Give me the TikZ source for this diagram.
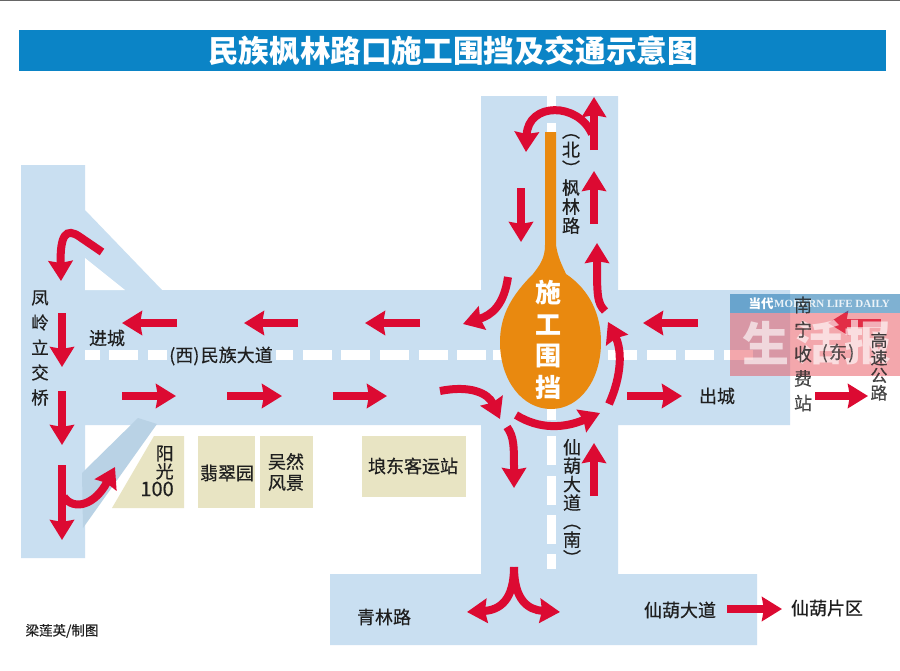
\documentclass[tikz,border=0pt]{standalone}
\usepackage{fontspec}
\usetikzlibrary{arrows.meta}
\setmainfont{Noto Sans CJK SC}[UprightFeatures={FakeBold=0.35}]
\newfontfamily\wmlatin{Liberation Serif}
\definecolor{road}{HTML}{C9DFF1}
\definecolor{ramp}{HTML}{B9D2E5}
\definecolor{beige}{HTML}{E8E4C3}
\definecolor{bar}{HTML}{0B84C6}
\definecolor{cone}{HTML}{E9890F}
\definecolor{redarrow}{HTML}{DC0A32}
\definecolor{wmred}{HTML}{E8505A}
\definecolor{wmblue}{HTML}{2A7DB5}
\newcommand{\pxf}[1]{\pgfmathsetmacro{\tmpfs}{#1*0.75}\fontsize{\tmpfs pt}{\tmpfs pt}\selectfont}
\newcommand{\pxfb}[2]{\pgfmathsetmacro{\tmpfs}{#1*0.75}\pgfmathsetmacro{\tmpbs}{#2*0.75}\fontsize{\tmpfs pt}{\tmpbs pt}\selectfont}
\tikzset{
  x=0.75pt,y=-0.75pt,
  flow/.style={draw=redarrow,line width=6pt,-{Stealth[length=15pt,width=18pt,inset=1.5pt]}},
  lab/.style={inner sep=0pt,text=black!88,font=\pxf{18}},
  vlab/.style={lab,align=center},
  dashmark/.style={fill=white,draw=none},
  wmbig/.style={inner sep=0pt,text=white,text opacity=0.62,font=\pxf{47}\bfseries},
}
\begin{document}
\begin{tikzpicture}
\useasboundingbox (0,0) rectangle (900,671);
\fill[white] (0,0) rectangle (900,671);
\fill[black!60] (0,0) rectangle (900,1);
% title
\fill[bar] (19,30) rectangle (886,71);
\node[inner sep=0pt,text=white,font=\pxf{30.6}\bfseries] (title) at (453,51) {民族枫林路口施工围挡及交通示意图};
% roads
\fill[road] (21,165) -- (85,165) -- (85,210) -- (162,290) -- (481,290) -- (481,96) -- (618,96) -- (618,290) -- (790,290) -- (790,425)
  -- (618,425) -- (618,574) -- (757,574) -- (757,645) -- (330,645) -- (330,574) -- (481,574) -- (481,425) -- (85,425) -- (85,558) -- (21,558) -- cycle;
\fill[white] (85,258) -- (125,290) -- (85,290) -- cycle;
\fill[ramp] (138,418) -- (157,424) -- (83,528) -- (82,473) -- cycle;
% horizontal dashes
\fill[white] (85,350) rectangle (100,360);
\foreach \i in {0,...,9}{\fill[dashmark] ({109+38.7*\i},350) rectangle ({138+38.7*\i},360);}
\fill[dashmark] (493,350) rectangle (510,360);
\foreach \s in {608,647,685,724}{\fill[dashmark] (\s,350) rectangle (\s+29,360);}
\fill[road] (167,346) rectangle (276,366);
% vertical dashes
\fill[dashmark] (547,96) rectangle (556,110);
\fill[dashmark] (547,123) rectangle (556,135);
\fill[dashmark] (547,405) rectangle (556,420);
\foreach \s in {436,476,515}{\fill[dashmark] (547,\s) rectangle (556,\s+29);}
\fill[dashmark] (547,554) rectangle (556,569);
% buildings
\fill[beige] (154,436) -- (184,436) -- (184,508) -- (112,508) -- cycle;
\fill[beige] (198,436) rectangle (255,508);
\fill[beige] (260,436) rectangle (313,508);
\fill[beige] (362,436) rectangle (466,497);
% closure
\fill[cone] (545,132) -- (556,132) -- (556,245) .. controls (558,258) and (562,265) .. (566,274)
  .. controls (590,290) and (601,315) .. (601,342) .. controls (601,380) and (580,409) .. (551,409)
  .. controls (522,409) and (500,380) .. (500,342) .. controls (500,315) and (512,295) .. (533,274)
  .. controls (540,265) and (545,258) .. (545,245) -- cycle;
\node[inner sep=0pt,text=white,font=\pxfb{26}{31.5}\bfseries,align=center] (closure) at (548,340) {施\\工\\围\\挡};
% arrows west road
\draw[flow] (177,323) -- (122,323);
\draw[flow] (298,323) -- (244,323);
\draw[flow] (420,323) -- (365,323);
\draw[flow] (508,277) .. controls (504,305) and (492,315) .. (463,324);
\draw[flow] (122,396) -- (176,396);
\draw[flow] (227,396) -- (282,396);
\draw[flow] (333,396) -- (387,396);
\draw[flow] (440,391) .. controls (470,385) and (488,393) .. (500,419);
% left road
\draw[flow] (102,252) -- (80,237) .. controls (66,227) and (60,235) .. (61,281);
\draw[flow] (62,313) -- (62,367);
\draw[flow] (62,391) -- (62,445);
\draw[flow] (62,465) -- (62,540);
\draw[flow] (64,497) .. controls (74,511) and (95,505) .. (115,467);
% junction
\draw[flow] (594,150) -- (594,97);
\draw[flow] (592,134) .. controls (578,102) and (528,102) .. (526,152);
\draw[flow] (594,224) -- (594,171);
\draw[flow] (521,188) -- (521,242);
\draw[flow] (605,311) .. controls (597,303) and (597,295) .. (597,243);
\draw[flow] (609,404) .. controls (622,375) and (622,350) .. (608,322);
\draw[flow] (516,415) .. controls (540,430) and (565,428) .. (600,413);
\draw[flow] (698,323) -- (643,323);
\draw[flow] (627,396) -- (682,396);
\draw[flow] (815,396) -- (868,396);
\draw[flow] (881,323) -- (828,323);
% south
\draw[flow] (507,427) .. controls (514,437) and (514,445) .. (514,488);
\draw[flow] (594,496) -- (594,443);
\draw[flow] (514,567) .. controls (514,600) and (500,610) .. (467,612);
\draw[flow] (514,567) .. controls (514,600) and (528,610) .. (560,612);
\draw[flow] (727,609) -- (782,609);
% labels
\node[vlab,font=\pxfb{17.5}{25}] (lingqiao) at (40,348) {凤\\岭\\立\\交\\桥};
\node[lab] (jincheng) at (107,338) {进城};
\node[lab] (minzu) at (221,356) {(西)\hspace{1pt}民族大道};
\node[lab,anchor=east,align=right,font=\pxfb{18}{18}] (yg) at (174,471) {阳\\光\\{\pxf{20}100}};
\node[lab] (fcy) at (227,473) {翡翠园};
\node[lab,align=center,font=\pxfb{18}{21}] (hr) at (286,472) {吴然\\风景};
\node[lab] (ld) at (413,466) {埌东客运站};
\node[vlab,font=\pxfb{18}{19}] (fl) at (571,184) {︵\\北\\︶\\枫\\林\\路};
\node[vlab,font=\pxfb{18}{18.5}] (xh) at (572,502) {仙\\葫\\大\\道\\︵\\南\\︶};
\node[lab] (cc) at (717,396) {出城};
\node[lab] (ql) at (384,617) {青林路};
\node[lab] (xhd) at (680,610) {仙葫大道};
\node[lab] (xhq) at (827,608) {仙葫片区};
\node[lab,font=\pxf{13.5}] (zt) at (62,631) {梁莲英/制图};
% watermark
\fill[fill=wmblue,fill opacity=0.6] (730,294) rectangle (900,313);
\fill[fill=wmred,fill opacity=0.5] (730,313) rectangle (900,376);
\node[inner sep=0pt,text=white,font=\pxf{12.5}\bfseries] (wma) at (761,304) {当代};
\node[inner sep=0pt,text=white,text opacity=0.85,font=\wmlatin\pxf{11}\bfseries] (wmb) at (832,304) {MODERN LIFE DAILY};
\node[wmbig] (wmc1) at (766,343) {生};
\node[wmbig] (wmc2) at (819,343) {活};
\node[wmbig] (wmc3) at (868,343) {报};
% labels seen through the watermark
\node[vlab,font=\pxfb{18}{24.5},text opacity=0.8] (nn) at (803,354) {南\\宁\\收\\费\\站};
\node[lab,text opacity=0.7] (east) at (838,353) {(\hspace{1pt}东\hspace{1pt})};
\node[vlab,font=\pxfb{17}{17.5},text opacity=0.8] (gs) at (879,366.5) {高\\速\\公\\路};
\end{tikzpicture}
\end{document}
